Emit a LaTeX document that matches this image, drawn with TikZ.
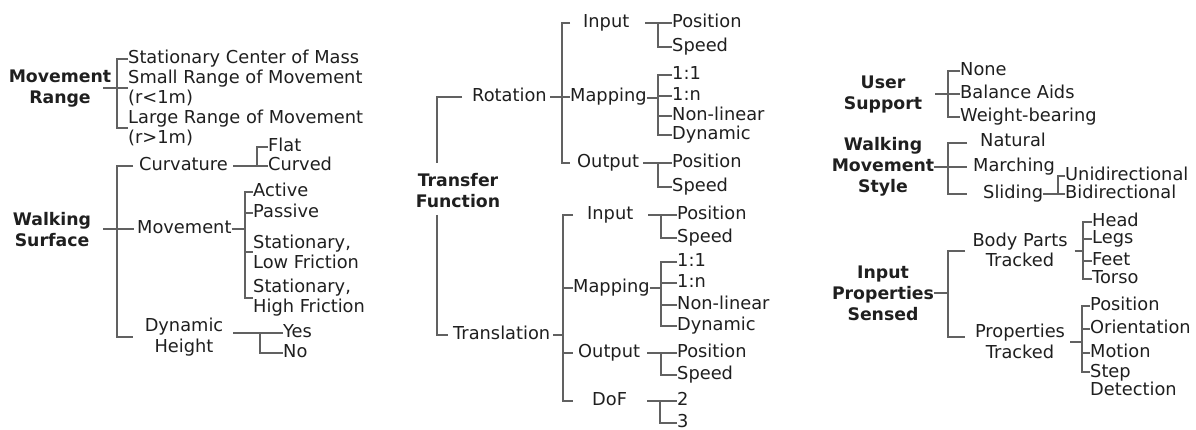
\documentclass[tikz,border=0pt]{standalone}
\usepackage{fontspec}
\setmainfont{DejaVu Sans}
\definecolor{txt}{gray}{0.12}
\definecolor{lc}{gray}{0.38}
\begin{document}
\begin{tikzpicture}[x=1pt,y=-1pt,
  lab/.style={inner sep=0pt, anchor=west, font=\fontsize{17.8}{20}\selectfont, text=txt, text height=12.8pt, text depth=3.6pt},
  mlab/.style={inner sep=0pt, anchor=west, align=left, font=\fontsize{17.8}{20}\selectfont, text=txt},
  clab/.style={inner sep=0pt, anchor=center, align=center, font=\fontsize{17.8}{20.5}\selectfont, text=txt},
  hd/.style={inner sep=0pt, align=center, font=\fontsize{17.3}{21}\selectfont\bfseries, text=txt},
  ln/.style={draw=lc, line width=1.8pt}]
\useasboundingbox[fill=white] (0,0) rectangle (1196,430);

% ---------------- Movement Range
\node[hd] (mrh) at (60,88.5) {Movement\\Range};
\node[lab] (mr0) at (128,59) {Stationary Center of Mass};
\node[mlab] (mr1) at (128,88) {Small Range of Movement\\(r<1m)};
\node[mlab] (mr2) at (128,128) {Large Range of Movement\\(r>1m)};
\draw[ln] (mr0.west) -| (117,88) |- (mr2.west);
\draw[ln] (103,88) -- (mr1.west);

% ---------------- Walking Surface
\node[hd] (wsh) at (52,230) {Walking\\Surface};
\node[lab] (wsc) at (139,166) {Curvature};
\node[lab] (wsm) at (137,229) {Movement};
\node[clab] (wsd) at (184,337) {Dynamic\\Height};
\draw[ln] ([xshift=-6pt]wsc.west) -| (117,229) |- ([xshift=-12pt]wsd.west |- 0,337);
\draw[ln] (103,229) -- ([xshift=-3pt]wsm.west);

\node[lab] (flat) at (268,147) {Flat};
\node[lab] (curved) at (268,166) {Curved};
\draw[ln] (flat.west) -| (257,166);
\draw[ln] ([xshift=5pt]wsc.east) -- (curved.west);

\node[lab] (act) at (253,192) {Active};
\node[lab] (pas) at (253,213) {Passive};
\node[mlab] (slf) at (253,252) {Stationary,\\Low Friction};
\node[mlab] (shf) at (253,298) {Stationary,\\High Friction};
\draw[ln] (act.west) -| (245,229) |- (shf.west);
\draw[ln] (245,213) -- (pas.west);
\draw[ln] (245,252) -- (slf.west);
\draw[ln] (wsm.east) -- (245,229);

\node[lab] (yes) at (283,333) {Yes};
\node[lab] (no) at (283,353) {No};
\draw[ln] (233,333) -- (yes.west);
\draw[ln] (260,333) |- (no.west);

% ---------------- Transfer Function
\node[hd] (tf) at (458,191) {Transfer\\Function};
\node[lab] (rot) at (472,97) {Rotation};
\node[lab] (tra) at (453,335) {Translation};
\draw[ln] ([xshift=-10pt]rot.west) -| (437,163);
\draw[ln] (437,215) |- ([xshift=-5pt]tra.west);

% Rotation
\node[lab] (rin) at (583,23) {Input};
\node[lab] (rmap) at (570,97) {Mapping};
\node[lab] (rout) at (577,163) {Output};
\draw[ln] (570,23) -| (562,97) |- (570,163);
\draw[ln] ([xshift=3pt]rot.east) -- (rmap.west);

\node[lab] (rip) at (672,23) {Position};
\node[lab] (ris) at (672,47) {Speed};
\draw[ln] (645,23) -- (rip.west);
\draw[ln] (658,23) |- (ris.west);

\node[lab] (rm1) at (672,75) {1:1};
\node[lab] (rm2) at (672,96) {1:n};
\node[lab] (rm3) at (672,116) {Non-linear};
\node[lab] (rm4) at (672,135) {Dynamic};
\draw[ln] (rm1.west) -| (658,98) |- (rm4.west);
\draw[ln] (658,96) -- (rm2.west);
\draw[ln] (658,116) -- (rm3.west);
\draw[ln] (rmap.east |- 0,98) -- (658,98);

\node[lab] (rop) at (672,163) {Position};
\node[lab] (ros) at (672,187) {Speed};
\draw[ln] (643,163) -- (rop.west);
\draw[ln] (658,163) |- (ros.west);

% Translation
\node[lab] (tin) at (587,215) {Input};
\node[lab] (tmap) at (573,288) {Mapping};
\node[lab] (tout) at (578,353) {Output};
\node[lab] (tdof) at (592,401) {DoF};
\draw[ln] (573,215) -| (563,335) |- (573,401);
\draw[ln] (563,288) -- (tmap.west);
\draw[ln] (563,353) -- (573,353);
\draw[ln] ([xshift=3pt]tra.east) -- (563,335);

\node[lab] (tip) at (677,215) {Position};
\node[lab] (tis) at (677,238) {Speed};
\draw[ln] (648,215) -- (tip.west);
\draw[ln] (661,215) |- (tis.west);

\node[lab] (tm1) at (677,262) {1:1};
\node[lab] (tm2) at (677,283) {1:n};
\node[lab] (tm3) at (677,305) {Non-linear};
\node[lab] (tm4) at (677,326) {Dynamic};
\draw[ln] (tm1.west) -| (661,288) |- (tm4.west);
\draw[ln] (661,283) -- (tm2.west);
\draw[ln] (661,305) -- (tm3.west);
\draw[ln] (tmap.east) -- (661,288);

\node[lab] (top) at (677,353) {Position};
\node[lab] (tos) at (677,375) {Speed};
\draw[ln] (647,353) -- (top.west);
\draw[ln] (661,353) |- (tos.west);

\node[lab] (td2) at (677,401) {2};
\node[lab] (td3) at (677,423) {3};
\draw[ln] (647,401) -- (td2.west);
\draw[ln] (660,401) |- (td3.west);

% ---------------- User Support
\node[hd] (ush) at (883,94) {User\\Support};
\node[lab] (n0) at (960,71) {None};
\node[lab] (n1) at (960,94) {Balance Aids};
\node[lab] (n2) at (960,117) {Weight-bearing};
\draw[ln] (n0.west) -| (948,94) |- (n2.west);
\draw[ln] (935,94) -- (n1.west);

% ---------------- Walking Movement Style
\node[hd] (wmh) at (883,167) {Walking\\Movement\\Style};
\node[lab] (nat) at (980,142) {Natural};
\node[lab] (mar) at (973,167) {Marching};
\node[lab] (sli) at (983,194) {Sliding};
\draw[ln] (967,143) -| (948,167) |- (967,194);
\draw[ln] (wmh.east |- 0,167) -- (967,167);

\node[lab] (uni) at (1065,176) {Unidirectional};
\node[lab] (bid) at (1065,194) {Bidirectional};
\draw[ln] (uni.west) -| (1058,194);
\draw[ln] (sli.east) -- (bid.west);

% ---------------- Input Properties Sensed
\node[hd] (iph) at (883,293) {Input\\Properties\\Sensed};
\node[clab] (bpt) at (1020,250) {Body Parts\\Tracked};
\node[clab] (prt) at (1020,341.5) {Properties\\Tracked};
\draw[ln] (965,251) -| (948,293) |- (965,337);
\draw[ln] (iph.east |- 0,293) -- (948,293);

\node[lab] (hd1) at (1092,222) {Head};
\node[lab] (lg) at (1092,239) {Legs};
\node[lab] (ft) at (1092,261) {Feet};
\node[lab] (ts) at (1092,279) {Torso};
\draw[ln] (hd1.west) -| (1083,251) |- (ts.west);
\draw[ln] (1083,239) -- (lg.west);
\draw[ln] (1083,261) -- (ft.west);
\draw[ln] ([xshift=7pt]bpt.east |- 0,251) -- (1083,251);

\node[lab] (pp) at (1090,306) {Position};
\node[lab] (po) at (1090,329) {Orientation};
\node[lab] (pm) at (1090,353) {Motion};
\node[mlab, font=\fontsize{17.8}{18}\selectfont] (stp) at (1090,379.6) {Step\\Detection};
\draw[ln] (pp.west) -| (1082,342) |- (stp.west |- 0,372);
\draw[ln] (1082,329) -- (po.west);
\draw[ln] (1082,353) -- (pm.west);
\draw[ln] ([xshift=5pt]prt.east |- 0,342) -- (1082,342);
\end{tikzpicture}
\end{document}
